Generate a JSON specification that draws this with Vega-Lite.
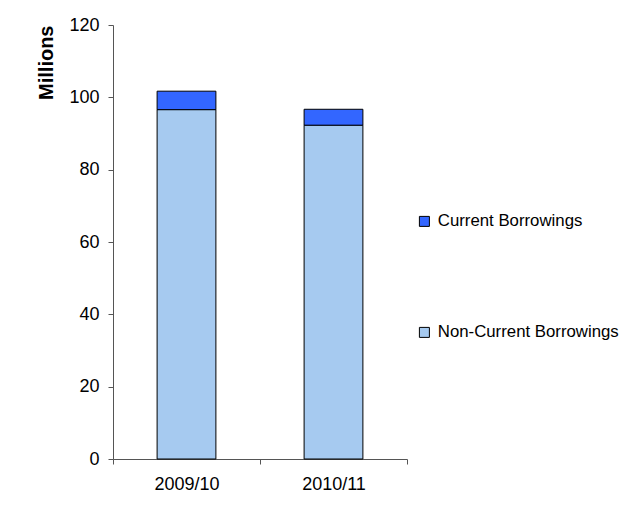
{
  "$schema": "https://vega.github.io/schema/vega-lite/v6.json",
  "autosize": "none",
  "width": 294,
  "height": 434,
  "padding": {"left": 113, "top": 25, "right": 218, "bottom": 47},
  "background": "white",
  "config": {
    "font": "Liberation Sans",
    "view": {"stroke": null},
    "axis": {"labelFont": "Liberation Sans", "titleFont": "Liberation Sans"}
  },
  "data": {
    "values": [
      {"year": "2009/10", "series": "Non-Current Borrowings", "value": 96.6},
      {"year": "2009/10", "series": "Current Borrowings", "value": 5.1},
      {"year": "2010/11", "series": "Non-Current Borrowings", "value": 92.3},
      {"year": "2010/11", "series": "Current Borrowings", "value": 4.4}
    ]
  },
  "mark": {"type": "bar", "stroke": "black", "strokeWidth": 1, "width": {"band": 0.4}},
  "encoding": {
    "x": {
      "field": "year",
      "type": "nominal",
      "scale": {"paddingInner": 0, "paddingOuter": 0},
      "axis": {
        "title": null,
        "labelAngle": 0,
        "labelFontSize": 18,
        "labelColor": "black",
        "labelPadding": 11,
        "tickBand": "extent",
        "tickColor": "#555555",
        "domainColor": "#555555",
        "tickSize": 5
      }
    },
    "y": {
      "field": "value",
      "type": "quantitative",
      "stack": "zero",
      "scale": {"domain": [0, 120], "nice": false},
      "axis": {
        "title": "Millions",
        "titleFontSize": 20,
        "titleFontWeight": "bold",
        "titleColor": "black",
        "titleAnchor": "end",
        "titlePadding": 12,
        "values": [0, 20, 40, 60, 80, 100, 120],
        "grid": false,
        "labelFontSize": 18,
        "labelColor": "black",
        "labelPadding": 9,
        "tickColor": "#555555",
        "domainColor": "#555555",
        "tickSize": 5
      }
    },
    "color": {
      "field": "series",
      "type": "nominal",
      "scale": {
        "domain": ["Current Borrowings", "Non-Current Borrowings"],
        "range": ["#3366FF", "#A6CAF0"]
      },
      "legend": {
        "title": null,
        "orient": "none",
        "legendX": 303,
        "legendY": 188,
        "symbolType": "square",
        "symbolSize": 100,
        "symbolStrokeColor": "black",
        "symbolStrokeWidth": 1,
        "labelFontSize": 16.8,
        "labelColor": "black",
        "labelOffset": 5,
        "labelLimit": 400,
        "rowPadding": 93
      }
    },
    "order": {"field": "series", "sort": "descending"}
  }
}
